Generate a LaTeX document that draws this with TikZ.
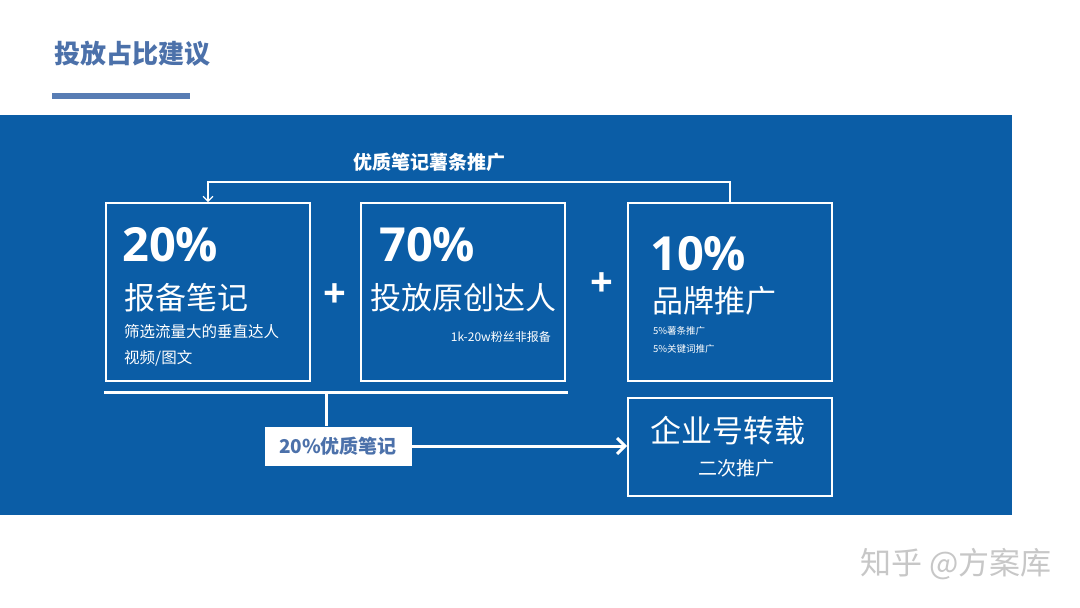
\documentclass[tikz,border=0pt]{standalone}
\usepackage{fontspec}
\usepackage{tikz}
\usetikzlibrary{arrows,arrows.meta,positioning,calc}
\setmainfont{Open Sans}
\newfontfamily\cjk{Noto Sans CJK SC}
\definecolor{panelblue}{RGB}{11,93,166}
\definecolor{titleblue}{RGB}{76,113,170}
\definecolor{barblue}{RGB}{88,125,180}

\begin{document}
\begin{tikzpicture}[x=1pt, y=-1pt, white]
\tikzstyle{every node}=[inner sep=0pt, text=white]
\tikzstyle{card}=[draw=white, line width=1.6pt, minimum width=204pt, minimum height=178pt]
\tikzstyle{pct}=[anchor=west, font=\fontsize{47}{47}\selectfont\bfseries]
\tikzstyle{head}=[anchor=west, font=\cjk\fontsize{31}{31}\selectfont]
\tikzstyle{small}=[anchor=west, font=\cjk\fontsize{15.5}{15.5}\selectfont]
\tikzstyle{tiny}=[anchor=west, font=\cjk\fontsize{9.5}{9.5}\selectfont]
\useasboundingbox (0,0) rectangle (1080,608);
\fill[white] (0,0) rectangle (1080,608);

% title
\node[anchor=west, text=titleblue, font=\cjk\fontsize{26}{26}\selectfont\bfseries] (title) at (54,54) {投放占比建议};
\fill[barblue] (52,93) rectangle (190,99);
\fill[panelblue] (0,115) rectangle (1012,515);

% cards
\node[card] (box1) at (208,292) {};
\node[card] (box2) at (463,292) {};
\node[card] (box3) at (730,292) {};
\node[card, minimum height=98pt] (box4) at (730,447) {};

\node[pct]  (pct1) at (122,245) {20\%};
\node[head] (head1) at (124,298) {报备笔记};
\node[small] (sub1a) at (124,332) {筛选流量大的垂直达人};
\node[small] (sub1b) at (124,358) {视频/图文};

\node[pct]  (pct2) at (379,245) {70\%};
\node[head] (head2) at (370,298) {投放原创达人};
\node[anchor=east, font=\cjk\fontsize{12}{12}\selectfont] (sub2) at (551,337) {1k-20w粉丝非报备};

\node[pct]  (pct3) at (650,254) {10\%};
\node[head] (head3) at (652,301) {品牌推广};
\node[tiny] (sub3a) at (653,331) {5\%薯条推广};
\node[tiny] (sub3b) at (653,349) {5\%关键词推广};

\node[head] (head4) at (650,431) {企业号转载};
\node[font=\cjk\fontsize{19}{19}\selectfont] (sub4) at (736,468) {二次推广};

\node[font=\fontsize{40}{40}\selectfont\bfseries] (plus1) at (335,296) {+};
\node[font=\fontsize{40}{40}\selectfont\bfseries] (plus2) at (602,285) {+};

% loop back on top
\node[font=\cjk\fontsize{19}{19}\selectfont\bfseries] (lbltop) at (429,162) {优质笔记薯条推广};
\coordinate (topY) at (0,182);
\draw[-{Straight Barb[length=5pt,width=10pt]}, line width=1.3pt] (box3.north) -- (box3.north |- topY) -| (box1.north);

% bottom branch
\coordinate (baseL) at (104,392);
\coordinate (baseR) at (568,392);
\coordinate (baseM) at (326,392);
\draw[line width=3pt] (baseL) -- (baseR);
\node[fill=white, minimum width=147pt, minimum height=39pt, text=titleblue,
      font=\cjk\fontsize{19}{19}\selectfont\bfseries] (note) at (338,446) {20\%优质笔记};
\draw[line width=3pt] (baseM) -- (baseM |- note.north);
\draw[-{Straight Barb[length=8pt,width=16pt]}, line width=3pt] (note.east) -- (note.east -| box4.west);

% watermark
\node[anchor=east, text=black!22, font=\cjk\fontsize{31}{31}\selectfont] (mark) at (1052,564) {知乎 @方案库};
\end{tikzpicture}
\end{document}
